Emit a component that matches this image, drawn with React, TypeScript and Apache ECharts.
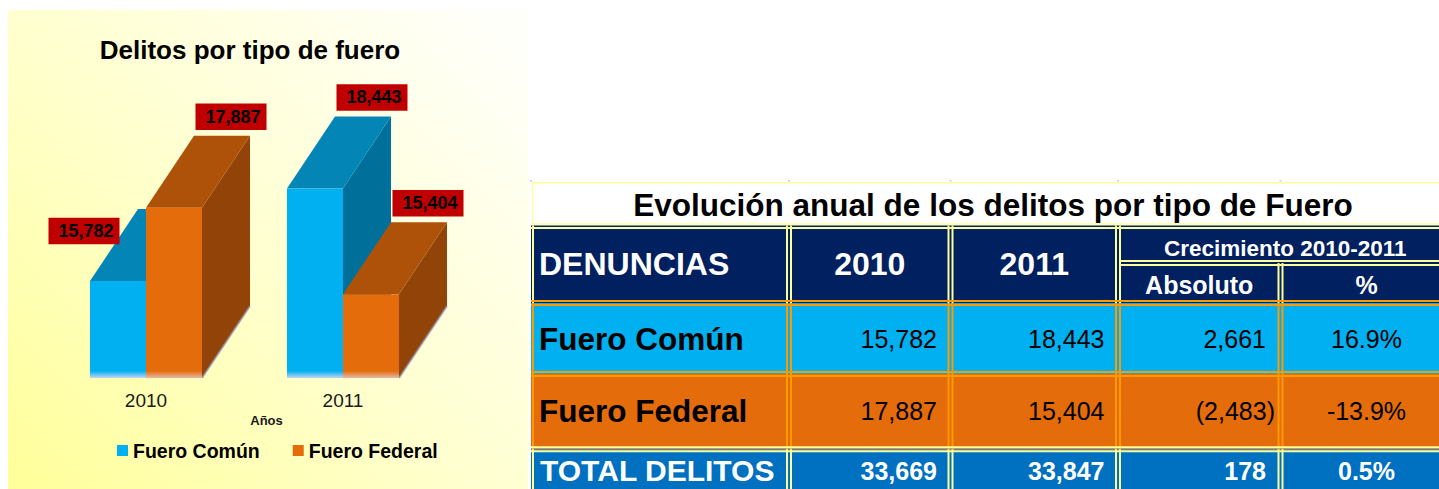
import React, { useEffect, useRef } from 'react';
import * as echarts from 'echarts';

// ---------------- data ----------------
const years = ['2010', '2011'];
const seriesNames = ['Fuero Común', 'Fuero Federal'];
const fueroComun = [15782, 18443];
const fueroFederal = [17887, 15404];
const totals = [33669, 33847];
const growthAbs = [2661, -2483, 178];
const growthPct = [16.9, -13.9, 0.5];
const chartTitle = 'Delitos por tipo de fuero';
const axisTitle = 'Años';
const tableTitle = 'Evolución anual de los delitos por tipo de Fuero';
const headerFirst = 'DENUNCIAS';
const growthTitle = 'Crecimiento 2010-2011';
const growthCols = ['Absoluto', '%'];
const totalLabel = 'TOTAL DELITOS';

// ---------------- style / layout ----------------
const FONT = "'Liberation Sans', Arial, Helvetica, sans-serif";
const Y_MIN = 13000;
const Y_MAX = 19000;
const BAR_FRAC = 0.2843;
const DEPTH = [48, -72];
const LABEL_OFFSET = [57, -91];
const LABEL_OFFSET_OVERRIDE: Record<string, number[]> = { '0-0': [-34, -50] };

const BAR_COLORS = [
  { front: '#00B0F0', top: '#0386B6', side: '#00709B', fade: '#C4D4F2' },
  { front: '#E46C0A', top: '#AE520A', side: '#924307', fade: '#E6B9AA' },
];

const TCOL = [531, 789, 950.5, 1118, 1280.5, 1452.5];
const TROW = { titleTop: 182.8, head: 225.5, headMid: 263, r1: 303, r2: 374, r3: 449.3, end: 497 };
const TC = {
  navy: '#002060',
  cyan: '#00B0F0',
  orange: '#E46C0A',
  blue: '#0070C0',
  yl: '#FFFF99',
  ol: '#FF9900',
};

const fmtNum = (n: number) => String(Math.round(n)).replace(/\B(?=(\d{3})+(?!\d))/g, ',');
const fmtAcct = (n: number) => (n < 0 ? `(${fmtNum(-n)})` : fmtNum(n));
const fmtPct = (p: number) => `${p.toFixed(1)}%`;

function txt(t: string, x: number, y: number, size: number, weight: string, fill: string, align: string) {
  return {
    type: 'text',
    silent: true,
    style: {
      text: t,
      x,
      y,
      font: `${weight} ${size}px ${FONT}`,
      fill,
      align,
      verticalAlign: 'middle',
      textAlign: align,
      textVerticalAlign: 'middle',
    },
  };
}

function buildTable() {
  const els: any[] = [];
  const L = TCOL[0];
  const R = 1462;
  const rect = (x: number, y: number, w: number, h: number, fill: string) =>
    els.push({ type: 'rect', silent: true, shape: { x, y, width: w, height: h }, style: { fill } });
  const dblV = (x: number, y0: number, y1: number, c: string) => {
    rect(x - 3, y0, 2, y1 - y0, c);
    rect(x + 1, y0, 2, y1 - y0, c);
  };
  const dblH = (y: number, x0: number, x1: number, c: string) => {
    rect(x0, y - 3, x1 - x0, 2, c);
    rect(x0, y + 1, x1 - x0, 2, c);
  };

  // faint sheet grid marks above the table
  TCOL.slice(0, 5).forEach((x) => rect(x - 1, 180, 2, 1.5, '#CFCFCF'));

  // title row
  els.push({
    type: 'rect',
    silent: true,
    shape: { x: 532.5, y: TROW.titleTop, width: R - 532.5, height: TROW.head - TROW.titleTop - 1.5 },
    style: { fill: '#FFFFFF', stroke: TC.yl, lineWidth: 1.4 },
  });
  els.push(txt(tableTitle, 993, 205, 31.5, 'bold', '#000000', 'center'));

  const rows = [
    { y0: TROW.head, y1: TROW.r1, fill: TC.navy, line: TC.yl },
    { y0: TROW.r1, y1: TROW.r2, fill: TC.cyan, line: TC.ol },
    { y0: TROW.r2, y1: TROW.r3, fill: TC.orange, line: TC.ol },
    { y0: TROW.r3, y1: TROW.end, fill: TC.blue, line: TC.yl },
  ];
  rows.forEach((r) => rect(L, r.y0, R - L, r.y1 - r.y0, r.fill));
  rows.forEach((r, i) => {
    for (let c = 1; c <= 4; c++) {
      const top = i === 0 && c === 4 ? TROW.headMid : r.y0;
      dblV(TCOL[c], top, r.y1, r.line);
    }
    rect(L + 1, r.y0, 2, r.y1 - r.y0, r.line);
  });
  rect(L, TROW.head + 1.5, R - L, 2, TC.yl);
  dblH(TROW.headMid, TCOL[3] + 1, R, TC.yl);
  dblH(TROW.r1, L, R, TC.ol);
  dblH(TROW.r2, L, R, TC.ol);
  dblH(TROW.r3, L, R, TC.yl);

  // header texts
  els.push(txt(headerFirst, L + 8, 264.3, 32, 'bold', '#FFFFFF', 'left'));
  years.forEach((y, i) =>
    els.push(txt(y, (TCOL[1 + i] + TCOL[2 + i]) / 2, 264.3, 32, 'bold', '#FFFFFF', 'center'))
  );
  els.push(txt(growthTitle, (TCOL[3] + TCOL[5]) / 2, 248, 22.5, 'bold', '#FFFFFF', 'center'));
  growthCols.forEach((g, i) =>
    els.push(txt(g, (TCOL[3 + i] + TCOL[4 + i]) / 2, 285, 25, 'bold', '#FFFFFF', 'center'))
  );

  const acctX = (n: number) => (n < 0 ? TCOL[4] - 5.5 : TCOL[4] - 14.5);
  const pctX = (TCOL[4] + TCOL[5]) / 2;
  const dataRows = [
    { label: seriesNames[0], vals: [fueroComun[0], fueroComun[1]], y: 338.8 },
    { label: seriesNames[1], vals: [fueroFederal[0], fueroFederal[1]], y: 410.8 },
  ];
  dataRows.forEach((r, k) => {
    els.push(txt(r.label, L + 8, r.y, 31.5, 'bold', '#000000', 'left'));
    r.vals.forEach((v, i) => els.push(txt(fmtNum(v), TCOL[2 + i] - 13.5, r.y, 25, 'normal', '#000000', 'right')));
    els.push(txt(fmtAcct(growthAbs[k]), acctX(growthAbs[k]), r.y, 25, 'normal', '#000000', 'right'));
    els.push(txt(fmtPct(growthPct[k]), pctX, r.y, 25, 'normal', '#000000', 'center'));
  });
  const ty = 470.8;
  els.push(txt(totalLabel, L + 9, ty, 30, 'bold', '#FFFFFF', 'left'));
  totals.forEach((v, i) => els.push(txt(fmtNum(v), TCOL[2 + i] - 13.5, ty, 25, 'bold', '#FFFFFF', 'right')));
  els.push(txt(fmtAcct(growthAbs[2]), acctX(growthAbs[2]), ty, 25, 'bold', '#FFFFFF', 'right'));
  els.push(txt(fmtPct(growthPct[2]), pctX, ty, 25, 'bold', '#FFFFFF', 'center'));
  return els;
}

function renderBar(si: number) {
  return (params: any, api: any) => {
    const ci = api.value(0);
    const v = api.value(1);
    const top = api.coord([ci, v]);
    const base = api.coord([ci, Y_MIN]);
    const band = api.size([1, 0])[0];
    const w = band * BAR_FRAC;
    const x0 = top[0] - w + si * w;
    const x1 = x0 + w;
    const ty = top[1];
    const by = base[1];
    const [dx, dy] = DEPTH;
    const c = BAR_COLORS[si];
    const h = by - ty;
    const fadeStart = Math.max(0, 1 - 7 / h);
    const off = LABEL_OFFSET_OVERRIDE[`${si}-${ci}`] || LABEL_OFFSET;
    const cx = (x0 + x1) / 2 + off[0];
    const cy = ty + off[1];
    return {
      type: 'group',
      children: [
        {
          type: 'polygon',
          shape: { points: [[x1, ty], [x1 + dx, ty + dy], [x1 + dx, by + dy], [x1, by]] },
          style: { fill: c.side },
        },
        {
          type: 'polyline',
          shape: { points: [[x1, by], [x1 + dx, by + dy]] },
          style: { stroke: '#8C90B8', lineWidth: 2, opacity: 0.7, fill: null },
        },
        {
          type: 'polygon',
          shape: { points: [[x0, ty], [x1, ty], [x1 + dx, ty + dy], [x0 + dx, ty + dy]] },
          style: { fill: c.top },
        },
        {
          type: 'rect',
          shape: { x: x0, y: ty, width: w, height: h },
          style: {
            fill: new echarts.graphic.LinearGradient(0, 0, 0, 1, [
              { offset: 0, color: c.front },
              { offset: fadeStart, color: c.front },
              { offset: 1, color: c.fade },
            ]),
          },
        },
        {
          type: 'rect',
          shape: { x: cx - 35.5, y: cy - 13.25, width: 71, height: 26.5 },
          style: { fill: '#C00000' },
        },
        {
          type: 'text',
          style: {
            text: fmtNum(v),
            x: cx + 2,
            y: cy,
            fill: '#000000',
            font: `bold 18px ${FONT}`,
            align: 'center',
            verticalAlign: 'middle',
            textAlign: 'center',
            textVerticalAlign: 'middle',
          },
        },
      ],
    };
  };
}

function buildOption() {
  const bg = {
    type: 'rect',
    silent: true,
    z: -10,
    shape: { x: 8, y: 10, width: 520, height: 480 },
    style: {
      fill: new echarts.graphic.LinearGradient(0, 1, 1, 0.1, [
        { offset: 0, color: '#FFFF99' },
        { offset: 0.5, color: '#FFFFCF' },
        { offset: 1, color: '#FFFFFA' },
      ]),
    },
  };
  const seriesData = [fueroComun, fueroFederal];
  return {
    animation: false,
    graphic: [
      bg,
      txt(chartTitle, 250, 50, 26, 'bold', '#000000', 'center'),
      txt(axisTitle, 266.5, 420, 13, 'bold', '#1A1A1A', 'center'),
      ...buildTable(),
    ],
    legend: {
      left: 117,
      top: 440.5,
      padding: 0,
      icon: 'rect',
      itemWidth: 11,
      itemHeight: 11,
      itemGap: 33,
      data: seriesNames,
      textStyle: { fontSize: 19.5, fontWeight: 'bold', color: '#000000', fontFamily: FONT },
    },
    grid: { left: 47.5, top: 169, width: 394, height: 209 },
    xAxis: {
      type: 'category',
      data: years,
      axisLine: { show: false },
      axisTick: { show: false },
      splitLine: { show: false },
      axisLabel: { fontSize: 19, color: '#1A1A1A', margin: 13.3, fontFamily: FONT },
    },
    yAxis: { type: 'value', min: Y_MIN, max: Y_MAX, show: false, splitLine: { show: false } },
    series: seriesNames.map((name, si) => ({
      type: 'custom',
      name,
      data: seriesData[si].map((v, i) => [i, v]),
      encode: { x: 0, y: 1 },
      itemStyle: { color: BAR_COLORS[si].front },
      renderItem: renderBar(si),
    })),
  };
}

export default function App() {
  const ref = useRef<HTMLDivElement>(null);
  useEffect(() => {
    if (!ref.current) return undefined;
    const chart = echarts.init(ref.current, null, { renderer: 'svg' });
    chart.setOption(buildOption() as any);
    return () => chart.dispose();
  }, []);
  return (
    <div
      ref={ref}
      style={{ position: 'absolute', left: 0, top: 0, width: 1439, height: 489, background: '#FFFFFF' }}
    />
  );
}
